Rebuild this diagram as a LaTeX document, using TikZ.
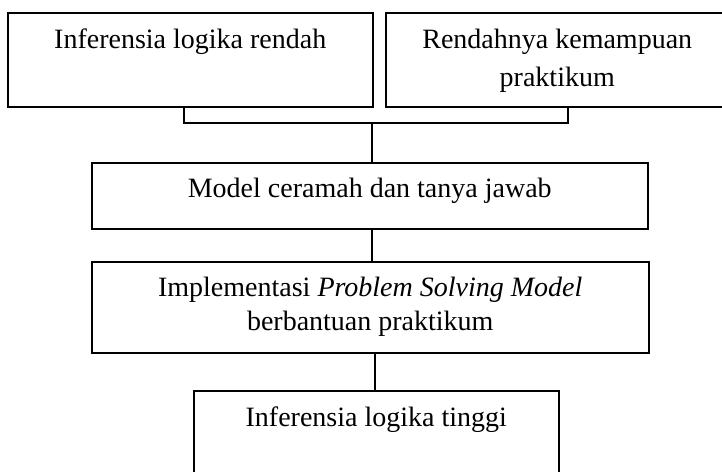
\documentclass[tikz,border=0pt]{standalone}
\usepackage{fontspec}
\setmainfont{Liberation Serif}

\begin{document}
\begin{tikzpicture}[x=1pt,y=-1pt,line width=1.5pt,
  kotak/.style={draw,anchor=north west,inner sep=0pt,font=\fontsize{28}{34}\selectfont}]
\useasboundingbox (0,0) rectangle (722,471);
\clip (0,0) rectangle (722,471);
    \node[kotak,minimum width=365pt,text height=36pt,text depth=58pt] (rendah) at (7,12) {Inferensia logika rendah};
    \node[kotak,minimum width=423pt,minimum height=94pt,font=\fontsize{28}{38}\selectfont] (praktikum) at (385,12) {\begin{tabular}{@{}c@{}}Rendahnya kemampuan\\praktikum\end{tabular}\hspace*{80pt}};
    \node[kotak,minimum width=556pt,text height=35pt,text depth=31pt] (ceramah) at (91,162) {Model ceramah dan tanya jawab};
    \node[kotak,minimum width=557pt,minimum height=91pt,align=center] (implementasi) at (91,261) {Implementasi \textit{Problem Solving Model}\\berbantuan praktikum};
    \node[kotak,minimum width=365pt,text height=36pt,text depth=100pt] (tinggi) at (193,390) {Inferensia logika tinggi};
    \coordinate (simpul) at (372,123);
    \draw ([xshift=-6.5pt]rendah.south) |- (simpul) -| ([xshift=-29.5pt]praktikum.south);
    \draw (simpul) -- (simpul |- ceramah.north);
    \draw (ceramah.south -| simpul) -- (simpul |- implementasi.north);
    \draw ([xshift=-1.5pt]implementasi.south -| tinggi.north) -- ([xshift=-1.5pt]tinggi.north);
\end{tikzpicture}
\end{document}
